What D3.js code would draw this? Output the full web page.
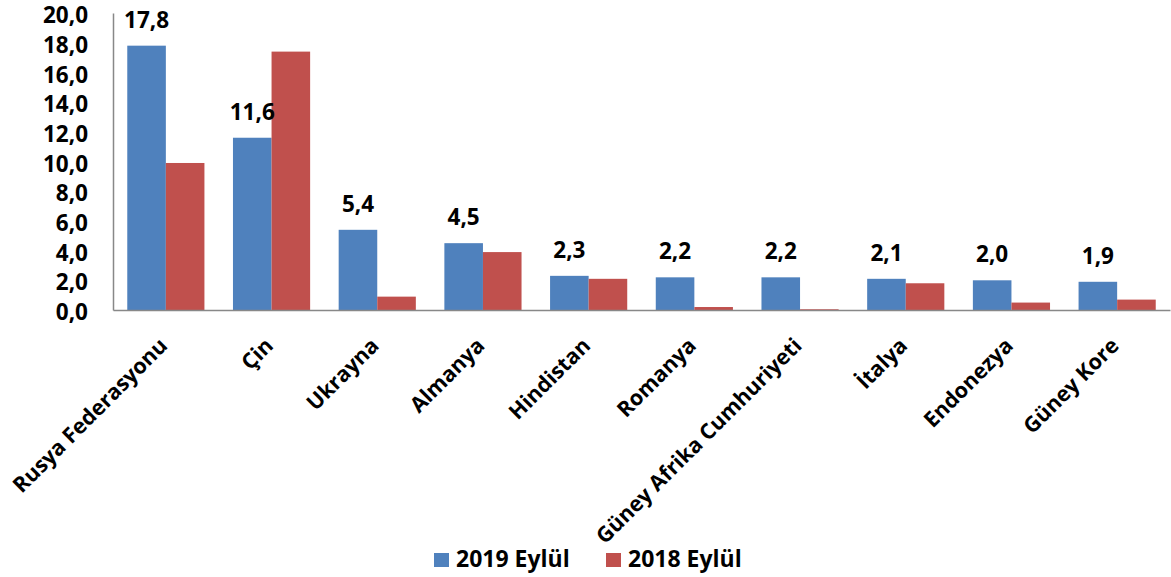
<!DOCTYPE html>
<html><head><meta charset="utf-8">
<script src="https://cdn.jsdelivr.net/npm/d3@7"></script>
<style>body{margin:0;background:#fff}svg{display:block}text{font-family:"Open Sans",sans-serif;font-weight:bold;fill:#000}</style>
</head><body><svg id="c" width="1171" height="577"></svg>
<script>
const categories = ["Rusya Federasyonu","Çin","Ukrayna","Almanya","Hindistan","Romanya","Güney Afrika Cumhuriyeti","İtalya","Endonezya","Güney Kore"];
const series2019 = [17.8,11.6,5.4,4.5,2.3,2.2,2.2,2.1,2.0,1.9];
const series2018 = [9.9,17.4,0.9,3.9,2.1,0.2,0.05,1.8,0.5,0.7];
const seriesNames = ["2019 Eylül","2018 Eylül"];
const colors = ["#4F81BD","#C0504D"];
const yTicks = [0,2,4,6,8,10,12,14,16,18,20];

(function(){
const svg = d3.select("#c");
const mLeft = 113, mRight = 1170, mTop = 13, mBottom = 310;
const fmt = d => d.toFixed(1).replace(".", ",");
const FONT = "'Open Sans', sans-serif";

const x = d3.scaleBand().domain(categories).range([mLeft, mRight]).paddingInner(0.27).paddingOuter(0.135);
const xs = d3.scaleBand().domain(seriesNames).range([0, x.bandwidth()]);
const y = d3.scaleLinear().domain([0,20]).range([mBottom, mTop]);

const ya = svg.append("g").attr("transform",`translate(${mLeft},0)`)
  .call(d3.axisLeft(y).tickValues(yTicks).tickSize(0).tickPadding(25).tickFormat(fmt));
ya.select(".domain").attr("stroke","#888").attr("stroke-width",1.5);
ya.selectAll("text").attr("font-size",22.5).attr("font-family",FONT).attr("font-weight","bold").attr("fill","#000").attr("dy","0.43em");

const data = [series2019, series2018];
const g = svg.append("g");
categories.forEach((c,i)=>{
  data.forEach((s,j)=>{
    g.append("rect").attr("x", x(c)+xs(seriesNames[j])).attr("width", xs.bandwidth())
      .attr("y", y(s[i])).attr("height", y(0)-y(s[i])).attr("fill", colors[j]);
  });
  g.append("text").attr("x", x(c)+xs(seriesNames[0])+xs.bandwidth()/2).attr("y", y(series2019[i])-18)
    .attr("text-anchor","middle").attr("font-size",22.5).text(fmt(series2019[i]));
});

const xa = svg.append("g").attr("transform",`translate(0,${mBottom})`)
  .call(d3.axisBottom(x).tickSize(0).tickFormat(d=>d));
xa.select(".domain").attr("stroke","#888").attr("stroke-width",1.5);
xa.selectAll("text").attr("font-size",21.5).attr("font-family",FONT).attr("font-weight","bold").attr("fill","#000")
  .attr("text-anchor","end").attr("dy",null).attr("y",0)
  .attr("transform","translate(3,37) rotate(-45)");

const lg = svg.append("g");
const lx = [434, 606];
seriesNames.forEach((n,j)=>{
  lg.append("rect").attr("x",lx[j]).attr("y",553).attr("width",15).attr("height",14).attr("fill",colors[j]);
  lg.append("text").attr("x",lx[j]+22).attr("y",567).attr("font-size",23).text(n);
});
})();
</script></body></html>
